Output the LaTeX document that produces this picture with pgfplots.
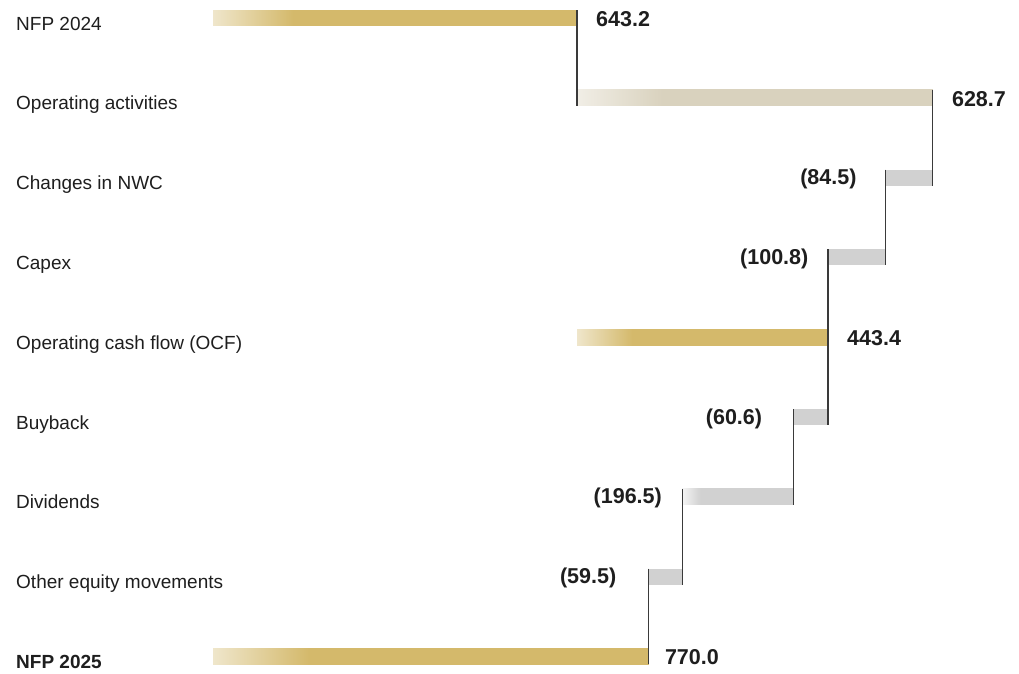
\documentclass[border=0pt]{standalone}
\usepackage{pgfplots}
\pgfplotsset{compat=1.18}
\usepackage{fontspec}
\setmainfont{Liberation Sans}
\definecolor{goldA}{HTML}{EFE6CB}
\definecolor{goldB}{HTML}{D4B96B}
\definecolor{beigeA}{HTML}{F1EEE6}
\definecolor{beigeB}{HTML}{D9D2BE}
\definecolor{grayA}{HTML}{F4F4F4}
\definecolor{grayB}{HTML}{D1D1D1}
\definecolor{txt}{HTML}{1E1E1E}
\definecolor{conn}{HTML}{3A3A3A}
\pgfdeclarehorizontalshading{goldfade}{100bp}{color(0bp)=(goldA); color(25bp)=(goldA); color(36bp)=(goldB); color(100bp)=(goldB)}
\pgfdeclarehorizontalshading{beigefade}{100bp}{color(0bp)=(beigeA); color(25bp)=(beigeA); color(37bp)=(beigeB); color(100bp)=(beigeB)}
\pgfdeclarehorizontalshading{grayfade}{100bp}{color(0bp)=(grayA); color(25bp)=(grayA); color(33bp)=(grayB); color(100bp)=(grayB)}
% bar: {ylow}{yhigh}{start}{end}{style}
\newcommand\wfbar[5]{\addplot[draw=none,#5] coordinates {(#3,#1) (#4,#1) (#4,#2) (#3,#2)};}
\newcommand\conn[3]{\addplot[conn, line width=1.1pt] coordinates {(#1,#2) (#1,#3)};}
\newcommand\vfont{\fontsize{21.5}{24}\selectfont\bfseries}
\begin{document}
\begin{tikzpicture}
\path[use as bounding box] (0,0) rectangle (1019pt,-673pt);
\begin{axis}[
  at={(213pt,-2.04pt)}, anchor=north west,
  scale only axis, width=787pt, height=670.32pt,
  xmin=0, xmax=1390.5, ymin=-0.2, ymax=8.2, y dir=reverse,
  axis line style={draw=none}, tick style={draw=none},
  xtick=\empty, ytick={0,...,8},
  yticklabels={NFP 2024, Operating activities, Changes in NWC, Capex, Operating cash flow (OCF), Buyback, Dividends, Other equity movements, \textbf{NFP 2025}},
  yticklabel style={anchor=base west, inner sep=0pt, xshift=-197pt, yshift=-12pt, font=\fontsize{19}{22}\selectfont, text=txt},
  clip=false,
]
% bars
\wfbar{-0.1}{0.1}{0}{643.2}{shade, shading=goldfade}
\wfbar{0.9}{1.1}{643.2}{1271.9}{shade, shading=beigefade}
\wfbar{1.9}{2.1}{1187.4}{1271.9}{fill=grayB}
\wfbar{2.9}{3.1}{1086.6}{1187.4}{fill=grayB}
\wfbar{3.9}{4.1}{643.2}{1086.6}{shade, shading=goldfade}
\wfbar{4.9}{5.1}{1026.0}{1086.6}{fill=grayB}
\wfbar{5.9}{6.1}{829.5}{1026.0}{shade, shading=grayfade}
\wfbar{6.9}{7.1}{770.0}{829.5}{fill=grayB}
\wfbar{7.9}{8.1}{0}{770.0}{shade, shading=goldfade}
% connectors
\conn{643.2}{-0.1}{1.1}
\conn{1271.9}{0.9}{2.1}
\conn{1187.4}{1.9}{3.1}
\conn{1086.6}{2.9}{5.1}
\conn{1026.0}{4.9}{6.1}
\conn{829.5}{5.9}{7.1}
\conn{770.0}{6.9}{8.1}
% value labels
\begin{scope}[every node/.style={inner sep=0pt, text=txt, font=\vfont}]
\node[anchor=base west, xshift=19pt, yshift=-8.5pt] at (axis cs:643.2,0) {643.2};
\node[anchor=base west, xshift=19pt, yshift=-8.5pt] at (axis cs:1271.9,1) {628.7};
\node[anchor=west, xshift=-85pt, yshift=-1.5pt] at (axis cs:1187.4,2) {(84.5)};
\node[anchor=west, xshift=-88pt, yshift=-1.5pt] at (axis cs:1086.6,3) {(100.8)};
\node[anchor=base west, xshift=19pt, yshift=-8.5pt] at (axis cs:1086.6,4) {443.4};
\node[anchor=west, xshift=-88pt, yshift=-1.5pt] at (axis cs:1026.0,5) {(60.6)};
\node[anchor=west, xshift=-89pt, yshift=-1.5pt] at (axis cs:829.5,6) {(196.5)};
\node[anchor=west, xshift=-89pt, yshift=-1.5pt] at (axis cs:770.0,7) {(59.5)};
\node[anchor=base west, xshift=16pt, yshift=-8.5pt] at (axis cs:770.0,8) {770.0};
\end{scope}
\end{axis}
\end{tikzpicture}
\end{document}
